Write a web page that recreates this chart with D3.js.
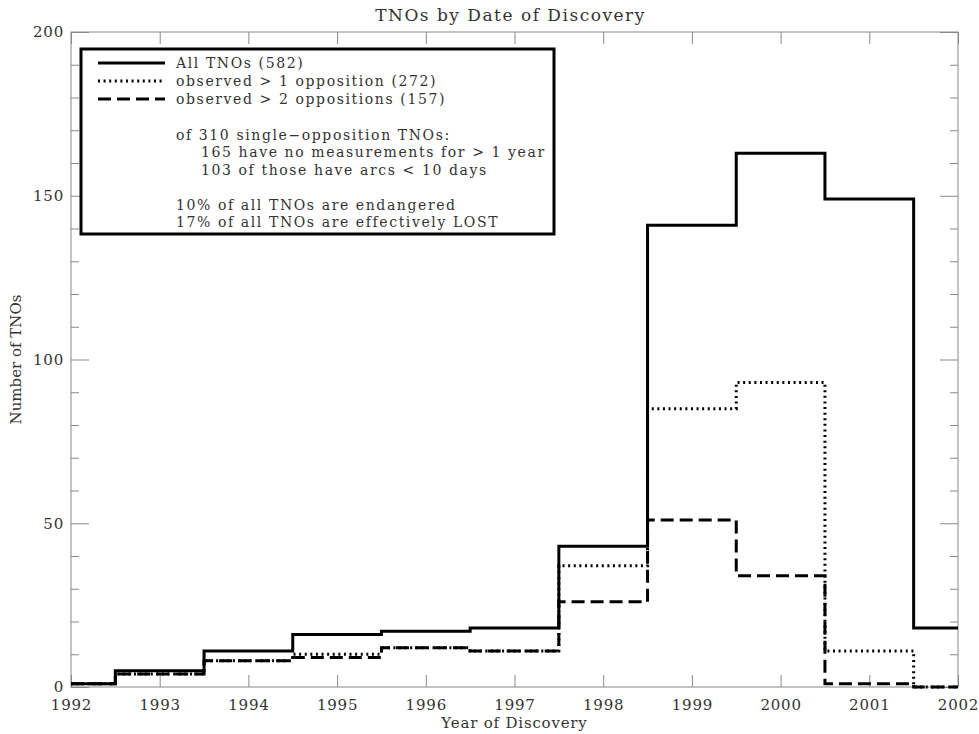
<!DOCTYPE html>
<html>
<head>
<meta charset="utf-8">
<script src="https://cdn.jsdelivr.net/npm/d3@7"></script>
<style>
  body { margin: 0; background: #fff; }
  text { font-family: "DejaVu Serif", serif; fill: #333; }
</style>
</head>
<body>
<div id="chart"></div>
<script>
// histogram values, one bin per year (bins centred on the year)
var years = [1992, 1993, 1994, 1995, 1996, 1997, 1998, 1999, 2000, 2001, 2002];
var allTNOs = [1, 5, 11, 16, 17, 18, 43, 141, 163, 149, 18];
var multiOpp = [1, 4, 8, 10, 12, 11, 37, 85, 93, 11, 0];
var twoOpp = [1, 4, 8, 9, 12, 11, 26, 51, 34, 1, 0];

var yMajor = [0, 50, 100, 150, 200];
var legendRows = ["All TNOs (582)", "observed > 1 opposition (272)", "observed > 2 oppositions (157)"];
var notes = [
  ["of 310 single\u2212opposition TNOs:", 0],
  ["165 have no measurements for > 1 year", 1],
  ["103 of those have arcs < 10 days", 1],
  ["", 0],
  ["10% of all TNOs are endangered", 0],
  ["17% of all TNOs are effectively LOST", 0]
];

// set the dimensions and margins of the graph
var margin = {top: 32, right: 21, bottom: 47, left: 71},
    width = 979 - margin.left - margin.right,
    height = 734 - margin.top - margin.bottom;

var svg = d3.select("#chart")
  .append("svg")
    .attr("width", 979)
    .attr("height", 734)
  .append("g")
    .attr("transform", "translate(" + margin.left + "," + margin.top + ")");

var x = d3.scaleLinear().domain([1992, 2002]).range([0, width]);
var y = d3.scaleLinear().domain([0, 200]).range([height, 0]);

var minor = d3.range(0, 201, 10).filter(function(d) { return d % 50 != 0; });

// bottom axis with labels
var xb = svg.append("g")
  .attr("transform", "translate(0," + height + ")")
  .call(d3.axisBottom(x).tickValues(years).tickFormat(d3.format("d")).tickSizeInner(-12).tickSizeOuter(0).tickPadding(12));
// top axis, ticks only
var xt = svg.append("g")
  .call(d3.axisTop(x).tickValues(years).tickFormat("").tickSizeInner(-12).tickSizeOuter(0));
// left axis
var yl = svg.append("g")
  .call(d3.axisLeft(y).tickValues(yMajor).tickSizeInner(-18).tickSizeOuter(0).tickPadding(7));
var ylm = svg.append("g")
  .call(d3.axisLeft(y).tickValues(minor).tickFormat("").tickSizeInner(-8).tickSizeOuter(0));
// right axis
var yr = svg.append("g")
  .attr("transform", "translate(" + width + ",0)")
  .call(d3.axisRight(y).tickValues(yMajor).tickFormat("").tickSizeInner(-18).tickSizeOuter(0));
var yrm = svg.append("g")
  .attr("transform", "translate(" + width + ",0)")
  .call(d3.axisRight(y).tickValues(minor).tickFormat("").tickSizeInner(-8).tickSizeOuter(0));

svg.selectAll(".domain").remove();
svg.selectAll(".tick line").attr("stroke", "#888").attr("stroke-width", 1);
svg.selectAll(".tick text")
  .style("font-size", "15px").style("font-family", "DejaVu Serif").style("letter-spacing", "0.8px")
  .attr("fill", "#333");

svg.append("rect")
  .attr("width", width).attr("height", height)
  .attr("fill", "none").attr("stroke", "#888").attr("stroke-width", 1);

// histogram step lines
var line = d3.line()
  .x(function(d, i) { return x(years[i]); })
  .y(function(d) { return y(d); })
  .curve(d3.curveStep);

svg.append("path").datum(allTNOs)
  .attr("d", line).attr("fill", "none").attr("stroke", "#000").attr("stroke-width", 3);
svg.append("path").datum(multiOpp)
  .attr("d", line).attr("fill", "none").attr("stroke", "#000").attr("stroke-width", 3)
  .attr("stroke-dasharray", "2,3.6");
svg.append("path").datum(twoOpp)
  .attr("d", line).attr("fill", "none").attr("stroke", "#000").attr("stroke-width", 3)
  .attr("stroke-dasharray", "13,6");

// titles
svg.append("text")
  .attr("x", width / 2 - 4).attr("y", -11)
  .attr("text-anchor", "middle")
  .style("font-size", "17px").style("letter-spacing", "1.5px")
  .text("TNOs by Date of Discovery");
svg.append("text")
  .attr("x", width / 2).attr("y", height + 41)
  .attr("text-anchor", "middle")
  .style("font-size", "15px").style("letter-spacing", "0.8px")
  .text("Year of Discovery");
svg.append("text")
  .attr("transform", "translate(-50," + (height / 2) + ") rotate(-90)")
  .attr("text-anchor", "middle")
  .style("font-size", "15px")
  .text("Number of TNOs");

// legend box
var lg = svg.append("g").attr("transform", "translate(10,17)");
lg.append("rect")
  .attr("width", 473).attr("height", 185)
  .attr("fill", "#fff").attr("stroke", "#000").attr("stroke-width", 3);

var dashes = [null, "2,3.6", "13,6"];
legendRows.forEach(function(t, i) {
  var yy = 14 + i * 18;
  lg.append("line")
    .attr("x1", 17).attr("x2", 84).attr("y1", yy).attr("y2", yy)
    .attr("stroke", "#000").attr("stroke-width", 3)
    .attr("stroke-dasharray", dashes[i]);
  lg.append("text")
    .attr("x", 95).attr("y", yy).attr("dy", "0.35em")
    .style("font-size", "14px").style("letter-spacing", "1.6px")
    .text(t);
});
notes.forEach(function(n, i) {
  lg.append("text")
    .attr("x", 95 + n[1] * 25).attr("y", 86 + i * 17.5).attr("dy", "0.35em")
    .style("font-size", "14px").style("letter-spacing", "1.6px")
    .text(n[0]);
});
</script>
</body>
</html>
